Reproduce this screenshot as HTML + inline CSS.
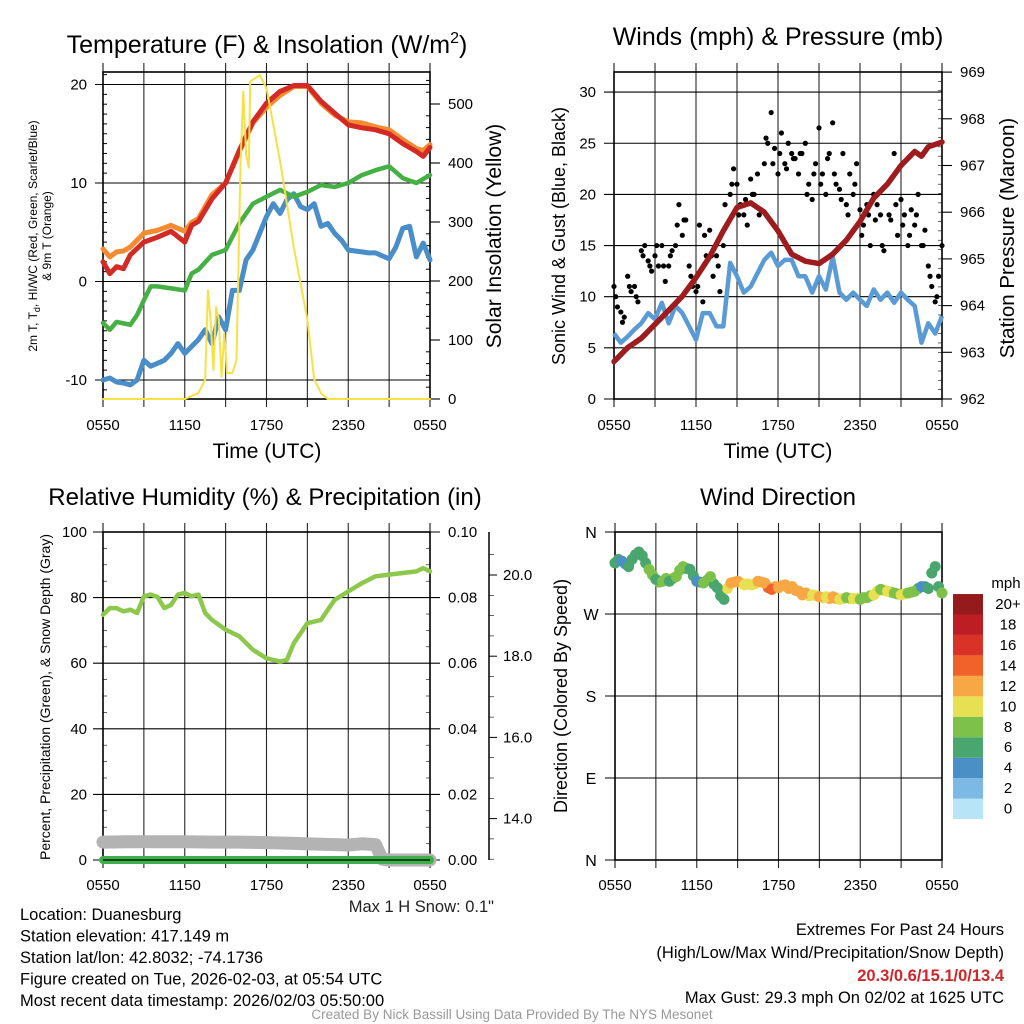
<!DOCTYPE html>
<html><head><meta charset="utf-8"><style>
html,body{margin:0;padding:0;background:#fff;}
svg{display:block;font-family:"Liberation Sans",Arial,sans-serif;}
</style></head><body>
<svg id="c" width="1024" height="1024" viewBox="0 0 1024 1024"></svg>
<script>
// ---------- data ----------
const tHours=[0,0.5,1,1.5,2,3,4,5,6,6.5,7,8,9,10,11,12,13,14,15,16,17,18,19,20,21,22,23,23.5,24];
const tempRed=[2.0,0.8,1.5,1.3,2.7,4.0,4.5,5.1,4.0,5.7,6.1,8.4,10.0,13.3,16.2,18.1,19.3,19.9,19.9,18.3,17.1,15.9,15.6,15.4,15.0,14.0,13.2,12.7,13.6];
const temp9mOrange=[3.3,2.5,3.0,3.1,3.5,4.9,5.2,5.7,5.1,6.0,6.4,8.8,10.0,13.2,16.1,17.7,18.9,19.8,19.8,18.1,16.9,16.2,16.1,15.7,15.4,14.4,13.5,13.3,13.9];
const dHours=[0,0.5,1,2,2.5,3,3.5,4,5,6,6.5,7,8,9,10,11,12,13,14,15,16,17,18,19,20,21,22,23,24];
const dewGreen=[-4.2,-4.9,-4.1,-4.4,-3.4,-1.9,-0.5,-0.5,-0.7,-0.9,0.8,1.2,2.7,3.2,5.9,7.9,8.6,9.3,8.6,9.1,9.8,9.6,10.0,10.8,11.3,11.7,10.5,10.0,10.8];
const halfHours=[];for(let i=0;i<=48;i++)halfHours.push(i/2);
const wcBlue=[-10.0,-9.8,-10.2,-10.3,-10.5,-10.0,-8.0,-8.6,-8.3,-8.0,-7.3,-6.3,-7.3,-6.6,-5.9,-4.9,-6.3,-3.6,-4.9,-0.9,-0.9,2.2,3.2,4.9,6.6,7.9,6.9,8.3,8.9,7.6,7.3,7.9,5.6,5.9,4.9,4.2,3.2,3.1,3.0,2.9,2.9,2.6,2.3,3.5,5.4,5.6,2.5,3.9,2.2];
const solHours=[0,6,7,7.5,7.7,7.9,8.1,8.3,8.5,8.7,8.9,9.1,9.5,9.8,10.1,10.3,10.5,10.7,10.8,11.5,12,13,14,15,15.5,16,16.5,24];
const solar=[0,0,10,33,184,134,49,156,134,38,111,44,44,66,403,521,415,392,538,549,527,403,257,134,33,10,0,0];
// panel 2
const windBlue=[6.4,5.5,6.1,6.8,7.4,8.4,7.8,9.4,7.4,9.1,8.4,7.1,5.8,8.4,8.4,7.1,7.1,13.3,12.0,10.4,11.0,12.3,13.6,14.3,13.0,13.6,13.6,12.0,12.0,10.4,12.0,10.7,13.9,10.4,9.7,10.4,9.7,9.1,10.7,9.7,10.4,9.4,10.4,9.7,9.1,5.5,7.4,6.4,8.1];
const pHours=[0,1,2,3,4,5,6,7,8,9,10,11,12,13,14,15,16,17,18,19,20,21,22,22.5,23,24];
const pressure=[962.8,963.1,963.3,963.6,963.9,964.2,964.6,965.05,965.6,966.1,966.2,966.0,965.6,965.1,964.95,964.9,965.1,965.4,965.8,966.3,966.6,967.0,967.3,967.2,967.4,967.5];
const gustA=[11,9,8.5,8,12,10.5,11,9.5,14.5,15,13.5,12.5,14,13,15,11.5,13,14.5,15,19,16,17.5,13,11,10.5,17,9.5,14,16.5,12,14,10.5,15,17,20,22.5,21,19,18,17,21.5,20,22,18.5,23,25,28,24.5,22,26,23,25,24,23.5,22,24,25,21,19.5,23,26.5,22,20,24,27,21,20.5,24,19,22,20,23,18.5,17,19,15,20,19,18,14.5,21,17.5,24,16,19.5,18,15,18.5,17,20,15,16.5,13,11,9.5,12,15];
const gustB=[10,7.5,11,10,14,13,15,13,14,17,17.5,12,11,16,14,13,19,21,18,19.5,20,18,25.5,23,24,22.5,23.5,24,20,22,21,23.5,22,19.5,18,21,16,18,17.5,15,18,19,17,16,18,15,12,10];
// panel 3
const rhHours=[0,0.5,1,1.5,2,2.5,3,3.5,4,4.5,5,5.5,6,6.5,7,7.5,8,9,10,11,12,13,13.5,14,15,16,17,18,19,20,21,22,23,23.5,24];
const rhGreen=[74.8,76.8,76.8,75.8,76.3,75.3,80.4,80.9,80.2,76.8,77.8,80.9,81.4,80.4,80.9,75.3,73.2,70.2,68.2,64.1,61.5,60.5,61.0,66.1,72.2,73.2,79.3,81.9,84.4,86.5,87.0,87.5,88.0,89.0,88.0];
const snowHours=[0,2,4,6,8,10,12,14,16,18,19,20,20.5,21,22,23,24];
const snowDepth=[13.42,13.43,13.43,13.43,13.42,13.42,13.41,13.39,13.37,13.35,13.38,13.36,13.0,12.98,12.98,12.98,12.98];
const precipHours=[0,24];
const precip=[0,0];
// panel 4
const windDir=[326,328,322,335,334,319,308,306,306,311,322,319,306,304,311,299,286,304,306,302,302,306,304,297,299,302,300,295,293,291,289,289,289,286,288,287,286,288,291,297,295,293,291,293,295,300,298,322,293];
const windDirMid=[330,325,330,338,326,313,305,309,309,318,320,312,305,307,303,290,298,305,304,303,303,305,299,300,301,298,296,291,290,290,288,287,287,287,287,287,288,290,295,296,294,292,292,294,298,300,315,300];
const speedMid=[6.0,5.8,6.5,7.1,7.9,8.1,8.6,8.4,8.2,8.7,7.7,6.4,7.1,8.4,7.7,7.1,10.2,12.6,11.2,10.7,11.6,12.9,14.0,13.6,13.3,13.6,12.8,12.0,11.2,11.2,11.3,12.3,12.1,10.0,10.0,10.0,9.4,9.9,10.2,10.0,9.9,9.9,10.0,9.4,7.3,6.4,6.9,7.2];
const barLabels=["0","2","4","6","8","10","12","14","16","18","20+"];
const barColors=["#b8e4f8","#7cb9e4","#4a8fc6","#48a66e","#7ec14a","#e6e052","#f8a745","#f0622a","#d93327","#bd1e24","#941a1c"];
const leftTicks1=[-10,0,10,20], rightTicks1=[0,100,200,300,400,500];
const leftTicks2=[0,5,10,15,20,25,30], rightTicks2=[962,963,964,965,966,967,968,969];
const leftTicks3=[0,20,40,60,80,100], rightTicks3=["0.00","0.02","0.04","0.06","0.08","0.10"], snowTicks=[14,16,18,20];
const dirTicks=["N","E","S","W","N"];
const timeLabels=["0550","1150","1750","2350","0550"];

// ---------- helpers ----------
const NS="http://www.w3.org/2000/svg";
const svg=document.getElementById('c');
function el(tag,attrs,parent){const e=document.createElementNS(NS,tag);for(const k in attrs)e.setAttribute(k,attrs[k]);(parent||svg).appendChild(e);return e;}
function txt(s,x,y,size,anchor,parent,extra){const e=el('text',Object.assign({x:x,y:y,'font-size':size,'text-anchor':anchor||'middle',fill:'#000'},extra||{}),parent);e.textContent=s;return e;}
function pathD(xsArr,ysArr){return xsArr.map((x,i)=>(i?'L':'M')+x.toFixed(1)+','+ysArr[i].toFixed(1)).join('');}

function frame(g,L,R,T,B,xf){
  for(let h=3;h<24;h+=3){el('line',{x1:xf(h),x2:xf(h),y1:T-9,y2:B+8,stroke:'#000','stroke-width':1.1,'stroke-opacity':0.85},g);}
  for(const h of [0,24]){el('line',{x1:xf(h),x2:xf(h),y1:T-9,y2:B+8,stroke:'#000','stroke-width':1},g);}
  el('rect',{x:L,y:T,width:R-L,height:B-T,fill:'none',stroke:'#000','stroke-width':1.6},g);
}
function timeAxis(g,xf,y){timeLabels.forEach((s,i)=>{const t=txt(s,xf(i*6),y,15,'middle',g);});}

// ================= PANEL 1 =================
{
const L=103,R=430,T=72,B=399;
const x=h=>L+h/24*(R-L), y=v=>281.5-v*9.85, ys=v=>399-v*0.59;
const g=el('g',{});  
frame(g,L,R,T,B,x);
leftTicks1.forEach(v=>{el('line',{x1:L-8,x2:R,y1:y(v),y2:y(v),stroke:'#000','stroke-width':1.1},g);const t=txt(String(v),L-16,y(v)+5,15,'end',g);});
for(let v=-11;v<=21;v++){if(v%10)el('line',{x1:L,x2:L+4,y1:y(v),y2:y(v),stroke:'#000'},g);}
rightTicks1.forEach(v=>{el('line',{x1:R,x2:R+10,y1:ys(v),y2:ys(v),stroke:'#000','stroke-width':1.1},g);const t=txt(String(v),R+18,ys(v)+5,15,'start',g);});
for(let v=20;v<=540;v+=20){if(v%100)el('line',{x1:R-4,x2:R,y1:ys(v),y2:ys(v),stroke:'#000'},g);}
const mk=(hs,vs,yf,col,w,name)=>{const p=el('path',{d:pathD(hs.map(x),vs.map(yf)),fill:'none',stroke:col,'stroke-width':w,'stroke-linejoin':'round','stroke-linecap':'round'},g);};
mk(halfHours,wcBlue,y,'#4a8ec9',5,'wind-chill-line');
mk(dHours,dewGreen,y,'#45b043',4.5,'dewpoint-line');
mk(tHours,temp9mOrange,y,'#f58a2f',5,'temp-9m-line');
mk(tHours,tempRed,y,'#d42a26',5,'temp-2m-line');
mk(solHours,solar,ys,'#f8e047',2,'solar-line');
timeAxis(g,x,430);
const t1=txt('Time (UTC)',267,458,21,'middle',g);
const ti=el('text',{x:267,y:53,'font-size':25,'text-anchor':'middle'},g);ti.innerHTML='Temperature (F) &amp; Insolation (W/m<tspan dy="-10" font-size="16">2</tspan><tspan dy="10">)</tspan>';
const yl=el('text',{transform:'translate(37,236) rotate(-90)','font-size':12,'text-anchor':'middle'},g);yl.innerHTML='2m T, T<tspan dy="3" font-size="9">d</tspan><tspan dy="-3">, HI/WC (Red, Green, Scarlet/Blue)</tspan>';
const yl2=txt('& 9m T (Orange)',0,0,12,'middle',g,{transform:'translate(51,236) rotate(-90)'});
const yr=txt('Solar Insolation (Yellow)',0,0,21,'middle',g,{transform:'translate(501,236) rotate(-90)'});
}

// ================= PANEL 2 =================
{
const L=614,R=942,T=72,B=399;
const x=h=>L+h/24*(R-L), y=v=>399-v*10.23, yp=v=>399-(v-962)*46.7;
const g=el('g',{});  
frame(g,L,R,T,B,x);
leftTicks2.forEach(v=>{el('line',{x1:L-10,x2:R,y1:y(v),y2:y(v),stroke:'#000','stroke-width':1.1},g);const t=txt(String(v),L-18,y(v)+5,15,'end',g);});
rightTicks2.forEach(v=>{el('line',{x1:R,x2:R+10,y1:yp(v),y2:yp(v),stroke:'#000','stroke-width':1.1},g);const t=txt(String(v),R+18,yp(v)+5,15,'start',g);});
for(let v=962.2;v<969;v+=0.2){el('line',{x1:R-4,x2:R,y1:yp(v),y2:yp(v),stroke:'#000','stroke-width':0.6},g);}
const wl=el('path',{d:pathD(halfHours.map(x),windBlue.map(y)),fill:'none',stroke:'#5b9bd5','stroke-width':4.5,'stroke-linejoin':'round'},g);

gustA.forEach((v,i)=>{const c=el('circle',{cx:x(i/4),cy:y(v),r:2.6,fill:'#000'},g);});
gustB.forEach((v,i)=>{const c=el('circle',{cx:x(i/2+0.125),cy:y(v),r:2.6,fill:'#000'},g);});
const pl=el('path',{d:pathD(pHours.map(x),pressure.map(yp)),fill:'none',stroke:'#9e1b1e','stroke-width':5.5,'stroke-linejoin':'round','stroke-linecap':'round'},g);

timeAxis(g,x,430);
const t1=txt('Time (UTC)',778,458,21,'middle',g);
const ti=txt('Winds (mph) & Pressure (mb)',778,45,25,'middle',g);
const yl=txt('Sonic Wind & Gust (Blue, Black)',0,0,18,'middle',g,{transform:'translate(565,236) rotate(-90)'});
const yr=txt('Station Pressure (Maroon)',0,0,20.5,'middle',g,{transform:'translate(1014,238) rotate(-90)'});
}

// ================= PANEL 3 =================
{
const L=103,R=430,T=532,B=860;
const x=h=>L+h/24*(R-L), y=v=>860-v*3.28, ysn=v=>575-(v-20)*40.6;
const g=el('g',{});  
frame(g,L,R,T,B,x);
leftTicks3.forEach((v,i)=>{el('line',{x1:L-10,x2:R+10,y1:y(v),y2:y(v),stroke:'#000','stroke-width':1.1},g);const t=txt(String(v),L-16,y(v)+5,15,'end',g);const t2=txt(rightTicks3[i],R+18,y(v)+5,15,'start',g);});
for(let v=5;v<100;v+=5){if(v%20)el('line',{x1:L,x2:L+4,y1:y(v),y2:y(v),stroke:'#000','stroke-width':0.6},g);el('line',{x1:R-4,x2:R,y1:y(v),y2:y(v),stroke:'#000','stroke-width':0.6},g);}
el('line',{x1:489,x2:489,y1:T,y2:B,stroke:'#000','stroke-width':1.5},g);
snowTicks.forEach(v=>{el('line',{x1:489,x2:497,y1:ysn(v),y2:ysn(v),stroke:'#000'},g);const t=txt(v.toFixed(1),503,ysn(v)+5,15,'start',g);});
for(let v=13;v<=20.5;v+=0.5){if(v%2)el('line',{x1:489,x2:494,y1:ysn(v),y2:ysn(v),stroke:'#000','stroke-width':0.6},g);}
const sp=el('path',{d:pathD(snowHours.map(x),snowDepth.map(ysn)),fill:'none',stroke:'#b3b3b3','stroke-width':13,'stroke-linecap':'round','stroke-linejoin':'round'},g);

const pp=el('path',{d:pathD(precipHours.map(x),precip.map(v=>860-v*3280)),fill:'none',stroke:'#3db04a','stroke-width':8,'stroke-linecap':'round'},g);

el('line',{x1:L,x2:R,y1:B,y2:B,stroke:'#000','stroke-width':1.2},g);
const rl=el('path',{d:pathD(rhHours.map(x),rhGreen.map(y)),fill:'none',stroke:'#8cc84b','stroke-width':4.5,'stroke-linejoin':'round','stroke-linecap':'round'},g);

timeAxis(g,x,890);
const ti=txt('Relative Humidity (%) & Precipitation (in)',265,505,24,'middle',g);
const yl=txt('Percent, Precipitation (Green), & Snow Depth (Gray)',0,0,14,'middle',g,{transform:'translate(50,697) rotate(-90)'});
const mx=txt('Max 1 H Snow: 0.1"',494,912,16.5,'end',g,{fill:'#222'});
}

// ================= PANEL 4 =================
{
const L=615,R=942,T=532,B=860;
const x=h=>L+h/24*(R-L), y=d=>860-d/360*328;
const g=el('g',{});  
frame(g,L,R,T,B,x);
dirTicks.forEach((s,i)=>{const v=i*90;el('line',{x1:L-10,x2:R,y1:y(v),y2:y(v),stroke:'#000','stroke-width':1.1},g);const t=txt(s,L-24,y(v)+6,16,'middle',g);});
const colFor=s=>barColors[Math.min(10,Math.max(0,Math.floor(s/2)))];
windDirMid.forEach((d,i)=>{const c=el('circle',{cx:x(i/2+0.25),cy:y(d),r:5.5,fill:colFor(speedMid[i])},g);});
windDir.forEach((d,i)=>{const c=el('circle',{cx:x(halfHours[i]),cy:y(d),r:5.5,fill:colFor(windBlue[i])},g);});
barColors.forEach((c,i)=>{const by=819-(i+1)*20.45;const r=el('rect',{x:953,y:by,width:30,height:20.45,fill:c},g);const t=txt(barLabels[i],1008,by+15,15,'middle',g);});
const u=txt('mph',1006,588,15,'middle',g);
timeAxis(g,x,890);
const ti=txt('Wind Direction',778,505,24,'middle',g);
const yl=txt('Direction (Colored By Speed)',0,0,18,'middle',g,{transform:'translate(567,696) rotate(-90)'});
}

// ================= FOOTER =================
{
const g=el('g',{});  
const lines=['Location: Duanesburg','Station elevation: 417.149 m','Station lat/lon: 42.8032; -74.1736','Figure created on Tue, 2026-02-03, at 05:54 UTC','Most recent data timestamp: 2026/02/03 05:50:00'];
lines.forEach((s,i)=>{const t=txt(s,20,920+i*21.5,16.5,'start',g);});
const r1=txt('Extremes For Past 24 Hours',1004,935,16.5,'end',g);
const r2=txt('(High/Low/Max Wind/Precipitation/Snow Depth)',1004,958,16.5,'end',g);
const r3=txt('20.3/0.6/15.1/0/13.4',1004,981,16.5,'end',g,{fill:'#d0262a','font-weight':'bold'});
const r4=txt('Max Gust: 29.3 mph On 02/02 at 1625 UTC',1004,1003,16.5,'end',g);
const cr=txt('Created By Nick Bassill Using Data Provided By The NYS Mesonet',512,1019,13.5,'middle',g,{fill:'#999'});
}
</script>
</body></html>
